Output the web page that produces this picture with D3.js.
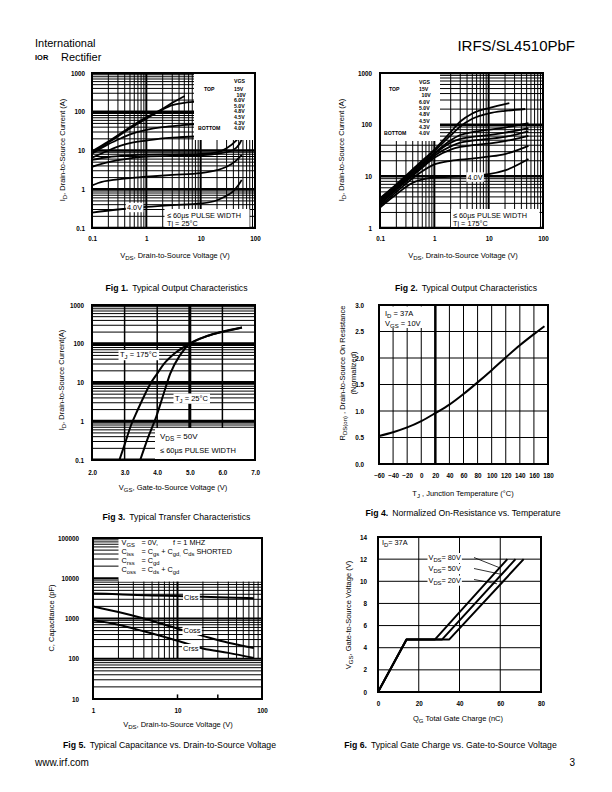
<!DOCTYPE html>
<html><head><meta charset="utf-8">
<script src="https://cdn.jsdelivr.net/npm/d3@7"></script>
<style>
body{margin:0;background:#fff}
svg{display:block}
text{font-family:"Liberation Sans",Arial,Helvetica,sans-serif;fill:#000}
</style>
</head><body>
<svg id="page" width="612" height="792"></svg>
<script>
// ---------------- DATA ----------------
const vgsLabels = ["15V","10V","6.0V","5.0V","4.8V","4.5V","4.3V","4.0V"];
// Fig 1 : Tj = 25C  [VDS, ID]
const f1_15V  = [[0.1,9.5],[0.2,17],[0.5,40],[1,72],[2,120],[3,170],[5.1,255]];
const f1_10V  = [[0.1,9],[0.2,16],[0.5,37],[1,66],[2,115],[3,148],[5,170],[10,183],[20,188]];
const f1_6V   = [[0.1,8.3],[0.2,14.5],[0.35,21],[0.5,26],[1,34],[2,40],[4,44],[8,47],[20,50]];
const f1_5V   = [[0.1,6.5],[0.2,10],[0.35,13.5],[0.5,15.5],[1,18],[2,20.5],[4,22],[8,23],[20,24.5]];
const f1_4V8  = [[0.1,5.7],[0.2,6.8],[0.5,7.5],[1,7.8],[5,8],[10,8.2],[20,9],[30,11.5],[45,18],[60,30]];
const f1_4V5  = [[0.1,3.8],[0.2,5],[0.5,6.3],[1,7],[5,7.4],[10,7.6],[20,8.2],[40,10.3],[52,15],[60,22]];
const f1_4V3  = [[0.1,1.25],[0.13,1.45],[0.3,1.8],[1,2.1],[3,2.35],[10,2.6],[20,3.1],[30,3.8],[45,5.5],[57,7.7]];
const f1_4V0  = [[0.1,0.25],[0.3,0.3],[1,0.35],[3,0.39],[10,0.43],[20,0.52],[27,0.63],[40,0.9],[50,1.3],[57,1.75]];
// Fig 2 : Tj = 175C
const f2_15V  = [[0.1,3.8],[0.2,7],[0.5,17],[1,33],[2,72],[3,115],[5,165],[10,210],[24,262]];
const f2_10V  = [[0.1,3.6],[0.2,6.8],[0.5,16],[1,31],[2,62],[3,92],[5,130],[10,165],[20,185],[47,201]];
const f2_6V   = [[0.1,3.4],[0.2,6.5],[0.5,15],[1,28],[2,50],[3,63],[5,72],[10,80],[20,88],[54,107]];
const f2_5V   = [[0.1,3.2],[0.2,6.1],[0.5,14],[1,27],[2,45],[3,53],[5,58],[10,63],[20,70],[54,86]];
const f2_4V8  = [[0.1,3.0],[0.2,5.8],[0.5,13],[1,25],[2,38],[3,45],[5,49],[10,53],[20,58],[54,74]];
const f2_4V5  = [[0.1,2.9],[0.2,5.5],[0.5,12.5],[1,23],[2,33],[3,37],[5,40],[10,43],[20,48],[54,61]];
const f2_4V3  = [[0.1,2.7],[0.2,5],[0.5,11],[1,17],[2,20],[5,22],[10,24],[20,27],[54,39]];
const f2_4V0  = [[0.1,2.5],[0.2,4.5],[0.4,7.5],[0.7,9],[1,9.5],[3,10],[10,11],[20,13],[54,21.6]];
// Fig 3 : transfer [VGS, ID]
const f3_175C = [[2.84,0.1],[3.0,0.25],[3.2,0.8],[3.4,1.95],[3.6,4.5],[3.8,9.5],[4.0,17],[4.2,30],[4.4,45],[4.6,62],[5.0,100],[5.5,155],[6.0,205],[6.6,262]];
const f3_25C  = [[3.48,0.1],[3.73,0.4],[3.97,1.3],[4.2,5.2],[4.4,17],[4.7,51],[5.0,100],[5.3,135],[5.7,175],[6.2,220],[6.6,262]];
// Fig 4 : normalized RDS(on)
const f4_temp = [-60,-40,-20,0,20,40,60,80,100,120,140,160,175];
const f4_rds  = [0.53,0.60,0.69,0.81,0.96,1.12,1.32,1.54,1.77,2.01,2.24,2.45,2.6];
// Fig 5 : capacitance [VDS, pF]
const f5_ciss = [[1,4200],[2,4000],[5,3750],[10,3600],[20,3450],[50,3300],[80,3200]];
const f5_coss = [[1,2000],[2,1450],[4,1000],[10,560],[20,370],[40,250],[80,185]];
const f5_crss = [[1,900],[2,700],[4,480],[10,280],[20,180],[40,140],[80,105]];
// Fig 6 : gate charge [QG, VGS]
const f6_80V = [[0,0],[14,4.75],[28,4.75],[63.5,12]];
const f6_50V = [[0,0],[14,4.75],[31.5,4.75],[67.5,12]];
const f6_20V = [[0,0],[14,4.75],[35,4.75],[71.5,12]];

// ---------------- HELPERS ----------------
const svg = d3.select("#page");
const FONT = '"Liberation Sans", Arial, Helvetica, sans-serif';

function rich(t, str, fs){
  const re = /_\{([^}]*)\}/g; let last = 0, m, shifted = false;
  const add = (s, sub) => {
    if (!s) return;
    const ts = t.append("tspan").text(s);
    if (sub){ ts.attr("dy", fs*0.3).attr("font-size", fs*0.8); shifted = true; }
    else if (shifted){ ts.attr("dy", -fs*0.3); shifted = false; }
  };
  while ((m = re.exec(str))){ add(str.slice(last, m.index), false); add(m[1], true); last = re.lastIndex; }
  add(str.slice(last), false);
  return t;
}
function txt(g, x, y, str, fs, opt={}){
  const t = g.append("text").attr("x",x).attr("y",y).attr("font-size",fs)
    .attr("text-anchor", opt.anchor||"start").attr("font-weight", opt.weight||"normal");
  if (opt.rotate) t.attr("transform", `rotate(-90,${x},${y})`);
  return rich(t, str, fs);
}
function boxedText(g, x, y, str, fs, px=1.5, py=0.3){
  const grp = g.append("g");
  const r = grp.append("rect").attr("fill","#fff");
  const t = txt(grp, x, y, str, fs);
  const b = t.node().getBBox();
  r.attr("x", b.x-px).attr("y", b.y-py).attr("width", b.width+2*px).attr("height", b.height+2*py);
  return grp;
}
let clipN = 0;
function panel(box, x, y){
  const id = "clip" + (clipN++);
  const g = svg.append("g");
  g.append("clipPath").attr("id", id).append("rect")
    .attr("x",box[0]).attr("y",box[1]).attr("width",box[2]-box[0]).attr("height",box[3]-box[1]);
  const grid = g.append("g").attr("stroke","#000").attr("clip-path",`url(#${id})`);
  const marks = g.append("g").attr("clip-path",`url(#${id})`);
  const over = g.append("g");
  return {g, grid, marks, over, box, x, y};
}
const isDecade = v => Math.abs(Math.log10(v) - Math.round(Math.log10(v))) < 1e-6;
function hGrid(P, vals, wfn, xr){
  xr = xr || [P.box[0], P.box[2]];
  P.grid.append("g").selectAll("line").data(vals).join("line")
    .attr("x1", xr[0]).attr("x2", xr[1]).attr("y1", d=>P.y(d)).attr("y2", d=>P.y(d))
    .attr("stroke-width", wfn);
}
function vGrid(P, vals, wfn, yr){
  yr = yr || [P.box[1], P.box[3]];
  P.grid.append("g").selectAll("line").data(vals).join("line")
    .attr("y1", yr[0]).attr("y2", yr[1]).attr("x1", d=>P.x(d)).attr("x2", d=>P.x(d))
    .attr("stroke-width", wfn);
}
function curve(P, data, w=1.8, smooth=true){
  P.marks.append("path").datum(data)
    .attr("d", d3.line().x(d=>P.x(d[0])).y(d=>P.y(d[1])).curve(smooth?d3.curveMonotoneX:d3.curveLinear))
    .attr("fill","none").attr("stroke","#000").attr("stroke-width",w).attr("stroke-linejoin","round");
}
function whiteRect(P, x0, y0, x1, y1){
  P.over.append("rect").attr("x",x0).attr("y",y0).attr("width",x1-x0).attr("height",y1-y0).attr("fill","#fff");
}
function frame(P, w=2){
  const b = P.box;
  P.g.append("rect").attr("x",b[0]).attr("y",b[1]).attr("width",b[2]-b[0]).attr("height",b[3]-b[1])
    .attr("fill","none").attr("stroke","#000").attr("stroke-width",w);
}
function styleAxis(s, fs){
  s.select(".domain").remove();
  s.attr("font-family", FONT).attr("font-size", fs).attr("font-weight","bold");
}
function axisL(P, vals, pad, fmt, fs=6.3){
  P.g.append("g").attr("transform",`translate(${P.box[0]},0)`)
    .call(d3.axisLeft(P.y).tickValues(vals).tickSize(0).tickPadding(pad).tickFormat(fmt))
    .call(s=>styleAxis(s, fs));
}
function axisB(P, vals, pad, fmt, fs=6.3){
  P.g.append("g").attr("transform",`translate(0,${P.box[3]})`)
    .call(d3.axisBottom(P.x).tickValues(vals).tickSize(0).tickPadding(pad).tickFormat(fmt))
    .call(s=>styleAxis(s, fs));
}
function caption(x, y, num, rest){
  const t = svg.append("text").attr("x",x).attr("y",y).attr("font-size",8.7).attr("text-anchor","middle");
  t.append("tspan").attr("font-weight","bold").text(num);
  t.append("tspan").attr("dx",4).text(rest);
}
function vgsLegend(P, xTop, xBot, xVal, yHead, y0, step){
  const fs = 5.2;
  txt(P.over, xVal, yHead, "VGS", fs, {weight:"bold"});
  txt(P.over, xTop, y0, "TOP", fs, {weight:"bold"});
  txt(P.over, xBot, y0 + step*(vgsLabels.length-1), "BOTTOM", fs, {weight:"bold"});
  vgsLabels.forEach((l,i)=> txt(P.over, xVal + (l.length===3 && i>0 ? 2.5 : 0), y0 + step*i, l, fs, {weight:"bold"}));
}
const logFmt = d => String(+d.toPrecision(3));

// ---------------- HEADER / FOOTER ----------------
svg.append("text").attr("x",35).attr("y",46.5).attr("font-size",11).attr("fill","#555")
  .attr("font-family","Inter, 'Open Sans', sans-serif").attr("font-weight",200).text("International");
svg.append("text").attr("x",35).attr("y",60).attr("font-size",7.5).attr("font-weight","bold")
  .attr("font-family","'Liberation Sans', Arial").attr("fill","#333").text("IOR");
svg.append("text").attr("x",61).attr("y",60.5).attr("font-size",11).attr("fill","#555")
  .attr("font-family","Inter, 'Open Sans', sans-serif").attr("font-weight",200).text("Rectifier");
svg.append("text").attr("x",575).attr("y",51).attr("font-size",15).attr("text-anchor","end").text("IRFS/SL4510PbF");
svg.append("text").attr("x",35).attr("y",766).attr("font-size",10).text("www.irf.com");
svg.append("text").attr("x",575).attr("y",766).attr("font-size",10).attr("text-anchor","end").text("3");

// ---------------- FIG 1 ----------------
{
  const P = panel([92,73,255,228], d3.scaleLog().domain([0.1,100]).range([92,255]),
                  d3.scaleLog().domain([0.1,1000]).range([228,73]));
  hGrid(P, P.y.ticks(), d=>isDecade(d)?2.5:1);
  vGrid(P, P.x.ticks(), d=>isDecade(d)?2:1);
  [f1_15V,f1_10V,f1_6V,f1_5V,f1_4V8,f1_4V5,f1_4V3,f1_4V0].forEach(c=>curve(P,c));
  whiteRect(P, 194, 73, 255, 140);
  vgsLegend(P, 204, 198, 234, 83, 91, 5.6);
  whiteRect(P, 164.5, 209, 249.5, 227);
  txt(P.over, 167, 217.5, "≤ 60µs PULSE WIDTH", 7.3);
  txt(P.over, 167, 225.5, "Tj = 25°C", 7.3);
  boxedText(P.over, 127, 210, "4.0V", 7.3, 1.2, 0.2);
  axisL(P, [0.1,1,10,100,1000], 7, logFmt);
  axisB(P, [0.1,1,10,100], 9, logFmt);
  txt(svg, 175, 258, "V_{DS}, Drain-to-Source Voltage (V)", 7.5, {anchor:"middle"});
  txt(svg, 64.5, 150, "I_{D}, Drain-to-Source Current (A)", 7.5, {anchor:"middle", rotate:true});
  frame(P);
}
caption(176.5, 291, "Fig 1.", "Typical Output Characteristics");

// ---------------- FIG 2 ----------------
{
  const P = panel([380,73,543,228], d3.scaleLog().domain([0.1,100]).range([380,543]),
                  d3.scaleLog().domain([1,1000]).range([228,73]));
  hGrid(P, P.y.ticks(), d=>isDecade(d)?2.5:1);
  vGrid(P, P.x.ticks(), d=>isDecade(d)?2:1);
  [f2_15V,f2_10V,f2_6V,f2_5V,f2_4V8,f2_4V5,f2_4V3,f2_4V0].forEach(c=>curve(P,c));
  whiteRect(P, 380, 73, 440, 141);
  vgsLegend(P, 389, 384, 419, 83.5, 91, 6.3);
  whiteRect(P, 451, 209, 539.5, 227);
  txt(P.over, 453, 217.5, "≤ 60µs PULSE WIDTH", 7.3);
  txt(P.over, 453, 225.5, "Tj = 175°C", 7.3);
  boxedText(P.over, 467.5, 179.5, "4.0V", 7.3, 1.2, 0.2);
  axisL(P, [1,10,100,1000], 8, logFmt);
  axisB(P, [0.1,1,10,100], 9, logFmt);
  txt(svg, 463, 258, "V_{DS}, Drain-to-Source Voltage (V)", 7.5, {anchor:"middle"});
  txt(svg, 344, 150, "I_{D}, Drain-to-Source Current (A)", 7.5, {anchor:"middle", rotate:true});
  frame(P);
}
caption(466, 291, "Fig 2.", "Typical Output Characteristics");

// ---------------- FIG 3 ----------------
{
  const P = panel([92,305,255,460], d3.scaleLinear().domain([2,7]).range([92,255]),
                  d3.scaleLog().domain([0.1,1000]).range([460,305]));
  hGrid(P, P.y.ticks(), d=>isDecade(d)?3:1);
  vGrid(P, [3,4,5,6], d=>d===5?3:1.5);
  curve(P, f3_175C, 2);
  curve(P, f3_25C, 2);
  boxedText(P.over, 120, 357, "T_{J} = 175°C", 7.5, 1.5, 0);
  boxedText(P.over, 175, 400.5, "T_{J} = 25°C", 7.5, 1.5, 0);
  whiteRect(P, 155, 428, 254, 459);
  txt(P.over, 160, 438.5, "V_{DS} = 50V", 8);
  txt(P.over, 160, 452.5, "≤ 60µs PULSE WIDTH", 7.5);
  axisL(P, [0.1,1,10,100,1000], 8, logFmt);
  axisB(P, [2,3,4,5,6,7], 11, d3.format(".1f"));
  txt(svg, 173, 490, "V_{GS}, Gate-to-Source Voltage (V)", 7.5, {anchor:"middle"});
  txt(svg, 63.5, 380, "I_{D}, Drain-to-Source Current(A)", 7.5, {anchor:"middle", rotate:true});
  frame(P);
}
caption(176.5, 520, "Fig 3.", "Typical Transfer Characteristics");

// ---------------- FIG 4 ----------------
{
  const P = panel([379,305,548,464], d3.scaleLinear().domain([-60,180]).range([379,548]),
                  d3.scaleLinear().domain([0,3]).range([464,305]));
  hGrid(P, [0.5,1,1.5,2,2.5], 1);
  vGrid(P, d3.range(-40,180,20), d=>d===20?2.5:1);
  curve(P, f4_temp.map((t,i)=>[t, f4_rds[i]]), 2);
  whiteRect(P, 381, 306.5, 427, 328);
  txt(P.over, 385, 316, "I_{D} = 37A", 7.5);
  txt(P.over, 385, 326, "V_{GS} = 10V", 7.5);
  axisL(P, [0,0.5,1,1.5,2,2.5,3], 15, d3.format(".1f"));
  axisB(P, d3.range(-60,181,20), 10, d3.format("d"));
  txt(svg, 463, 496, "T_{J} , Junction Temperature (°C)", 7.5, {anchor:"middle"});
  txt(svg, 344.5, 373, "R_{DS(on)} , Drain-to-Source On Resistance", 7.5, {anchor:"middle", rotate:true});
  txt(svg, 355.5, 373, "(Normalized)", 7.5, {anchor:"middle", rotate:true});
  frame(P);
}
caption(463, 516, "Fig 4.", "Normalized On-Resistance vs. Temperature");

// ---------------- FIG 5 ----------------
{
  const P = panel([93,538,262,699], d3.scaleLog().domain([1,100]).range([93,262]),
                  d3.scaleLog().domain([10,100000]).range([699,538]));
  hGrid(P, P.y.ticks(), d=>isDecade(d)?2:1);
  vGrid(P, P.x.ticks(), d=>isDecade(d)?2:1, [P.y(10000), P.y(100)]);
  vGrid(P, [10,30], 1.5, [P.y(13), P.y(10)]);
  curve(P, f5_ciss, 2);
  curve(P, f5_coss, 2);
  curve(P, f5_crss, 2);
  whiteRect(P, 118.5, 539, 261, 581.5);
  const fs = 7.3;
  txt(P.over, 121.5, 544.5, "V_{GS}", fs); txt(P.over, 141.5, 544.5, "= 0V,", fs); txt(P.over, 173, 544.5, "f = 1 MHZ", fs);
  txt(P.over, 121.5, 553.5, "C_{iss}", fs); txt(P.over, 141.5, 553.5, "= C_{gs} + C_{gd,}  C_{ds} SHORTED", fs);
  txt(P.over, 121.5, 562.5, "C_{rss}", fs); txt(P.over, 141.5, 562.5, "= C_{gd}", fs);
  txt(P.over, 121.5, 571.5, "C_{oss}", fs); txt(P.over, 141.5, 571.5, "= C_{ds} + C_{gd}", fs);
  boxedText(P.over, 184, 600, "Ciss", 7.5, 1, 0);
  boxedText(P.over, 183.5, 633, "Coss", 7.5, 1, 0);
  boxedText(P.over, 183, 651, "Crss", 7.5, 1, 0);
  axisL(P, [10,100,1000,10000,100000], 14, logFmt);
  axisB(P, [1,10,100], 9.5, logFmt);
  txt(svg, 178, 727, "V_{DS}, Drain-to-Source Voltage (V)", 7.5, {anchor:"middle"});
  txt(svg, 54, 618, "C, Capacitance (pF)", 7.5, {anchor:"middle", rotate:true});
  frame(P);
}
caption(169.5, 748, "Fig 5.", "Typical Capacitance vs. Drain-to-Source Voltage");

// ---------------- FIG 6 ----------------
{
  const P = panel([378,537,541,692], d3.scaleLinear().domain([0,80]).range([378,541]),
                  d3.scaleLinear().domain([0,14]).range([692,537]));
  hGrid(P, [2,4,6,8,10,12], 1);
  vGrid(P, [20,40,60], 1);
  curve(P, f6_80V, 2, false);
  curve(P, f6_50V, 2, false);
  curve(P, f6_20V, 2, false);
  boxedText(P.over, 382, 545, "I_{D}= 37A", 7.3, 1.5, 0);
  const lab = [["V_{DS}= 80V", 560, [474,557.5],[499,567.5]],
               ["V_{DS}= 50V", 571, [474,568.5],[502,574.5]],
               ["V_{DS}= 20V", 582.5, [474,579.5],[497,583.8]]];
  lab.forEach(([s,y,a,b])=>{
    boxedText(P.over, 428.5, y, s, 7.3, 1, 0);
    P.over.append("line").attr("x1",a[0]).attr("y1",a[1]).attr("x2",b[0]).attr("y2",b[1])
      .attr("stroke","#000").attr("stroke-width",0.8);
  });
  axisL(P, d3.range(0,15,2), 11, d3.format("d"));
  axisB(P, [0,20,40,60,80], 10, d3.format("d"));
  txt(svg, 458, 720.5, "Q_{G}  Total Gate Charge (nC)", 7.5, {anchor:"middle"});
  txt(svg, 351, 615, "V_{GS}, Gate-to-Source Voltage (V)", 7.5, {anchor:"middle", rotate:true});
  frame(P);
}
caption(450.5, 748, "Fig 6.", "Typical Gate Charge vs. Gate-to-Source Voltage");
</script>
</body></html>
